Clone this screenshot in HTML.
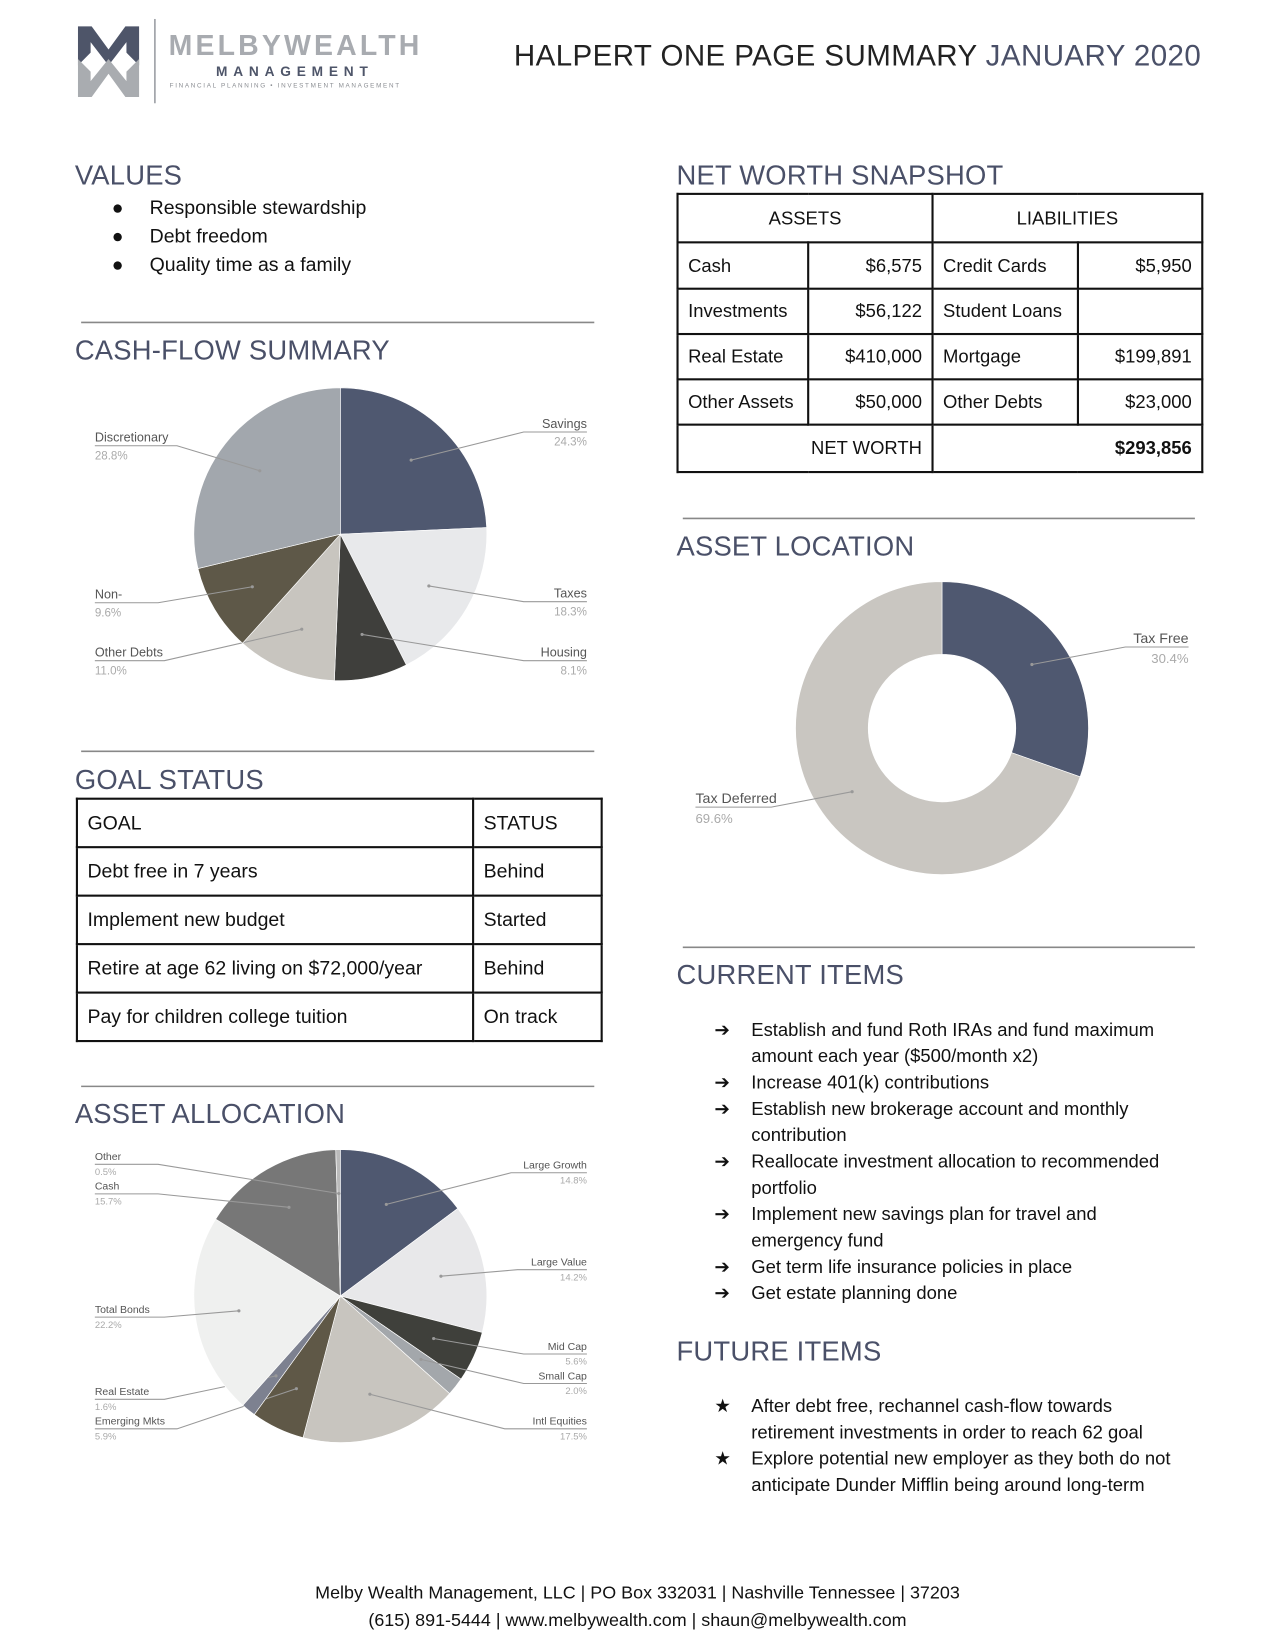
<!DOCTYPE html>
<html><head><meta charset="utf-8">
<style>
html,body{margin:0;padding:0;background:#fff;}
body{width:1275px;height:1650px;overflow:hidden;position:relative;font-family:"Liberation Sans",sans-serif;}
#page{position:absolute;left:0;top:0;width:1210px;height:1566px;transform:scale(1.0537);transform-origin:0 0;}
.abs{position:absolute;white-space:nowrap;}
.h{font-size:26px;color:#4a5068;letter-spacing:0.2px;}
table{border-collapse:collapse;position:absolute;font-size:17.5px;color:#111;}
td{border:2px solid #111;padding:0 9px;}
.r{text-align:right;}
.c{text-align:center;}
.li{position:relative;padding-left:71px;line-height:25px;font-size:17.5px;color:#111;white-space:normal;}
.li .m{position:absolute;left:36px;top:0;}
</style></head>
<body>
<div id="page">

<svg class="abs" style="left:0;top:0" width="1210" height="1566">
  <g>
    <polygon points="74,25 87,25 103,47 119,25 132,25 132,62 120,50 120,40 103,62 86,40 86,50 74,62" fill="#4e5569"/>
    <polygon points="74,92 87,92 103,70 119,92 132,92 132,56 120,68 120,77 103,56 86,77 86,68 74,56" fill="#a9acb0"/>
    <line x1="147" y1="18" x2="147" y2="98" stroke="#9a9da3" stroke-width="1.5"/>
  </g>
  <g stroke="#888" stroke-width="1.5">
    <line x1="77" y1="306" x2="564" y2="306"/>
    <line x1="77" y1="713" x2="564" y2="713"/>
    <line x1="77" y1="1031" x2="564" y2="1031"/>
    <line x1="648" y1="492" x2="1134" y2="492"/>
    <line x1="648" y1="899" x2="1134" y2="899"/>
  </g>
  <g id="cf"></g>
  <g id="al"></g>
  <g id="aa"></g>
</svg>

<div class="abs" style="left:160px;top:28px;font-size:27px;font-weight:bold;color:#a8abb0;letter-spacing:3px">MELBYWEALTH</div>
<div class="abs" style="left:205px;top:60px;font-size:13px;font-weight:bold;color:#4e5569;letter-spacing:5.5px">MANAGEMENT</div>
<div class="abs" style="left:161px;top:79px;font-size:6px;color:#8a8d92;letter-spacing:1.6px">FINANCIAL PLANNING • INVESTMENT MANAGEMENT</div>

<div class="abs" style="right:70px;top:37px;font-size:28px;letter-spacing:0.4px;color:#222">HALPERT ONE PAGE SUMMARY <span style="color:#4a5068">JANUARY 2020</span></div>

<div class="abs h" style="left:71px;top:151px">VALUES</div>
<div class="abs" style="left:0;top:183px;width:560px">
  <div class="li" style="font-size:18.5px;line-height:27px"><span class="m" style="left:106px">●</span><span style="margin-left:71px">Responsible stewardship</span></div>
  <div class="li" style="font-size:18.5px;line-height:27px"><span class="m" style="left:106px">●</span><span style="margin-left:71px">Debt freedom</span></div>
  <div class="li" style="font-size:18.5px;line-height:27px"><span class="m" style="left:106px">●</span><span style="margin-left:71px">Quality time as a family</span></div>
</div>

<div class="abs h" style="left:71px;top:317px">CASH-FLOW SUMMARY</div>
<div class="abs h" style="left:71px;top:725px">GOAL STATUS</div>
<div class="abs h" style="left:71px;top:1042px">ASSET ALLOCATION</div>
<div class="abs h" style="left:642px;top:151px">NET WORTH SNAPSHOT</div>
<div class="abs h" style="left:642px;top:503px">ASSET LOCATION</div>
<div class="abs h" style="left:642px;top:910px">CURRENT ITEMS</div>
<div class="abs h" style="left:642px;top:1267px">FUTURE ITEMS</div>

<table style="left:642px;top:183px;width:500px">
  <tr style="height:46px"><td colspan="2" class="c">ASSETS</td><td colspan="2" class="c">LIABILITIES</td></tr>
  <tr style="height:44px"><td style="width:104px">Cash</td><td class="r">$6,575</td><td style="width:118px">Credit Cards</td><td class="r">$5,950</td></tr>
  <tr style="height:43px"><td>Investments</td><td class="r">$56,122</td><td>Student Loans</td><td class="r"></td></tr>
  <tr style="height:43px"><td>Real Estate</td><td class="r">$410,000</td><td>Mortgage</td><td class="r">$199,891</td></tr>
  <tr style="height:43px"><td>Other Assets</td><td class="r">$50,000</td><td>Other Debts</td><td class="r">$23,000</td></tr>
  <tr style="height:45px"><td colspan="2" class="r">NET WORTH</td><td colspan="2" class="r" style="font-weight:bold">$293,856</td></tr>
</table>

<table style="left:72px;top:757px;width:500px;font-size:18.5px">
  <tr style="height:46px"><td style="width:356px">GOAL</td><td>STATUS</td></tr>
  <tr style="height:46px"><td>Debt free in 7 years</td><td>Behind</td></tr>
  <tr style="height:46px"><td>Implement new budget</td><td>Started</td></tr>
  <tr style="height:46px"><td>Retire at age 62 living on $72,000/year</td><td>Behind</td></tr>
  <tr style="height:46px"><td>Pay for children college tuition</td><td>On track</td></tr>
</table>

<div class="abs" style="left:642px;top:965px;width:488px;white-space:normal">
  <div class="li"><span class="m">➔</span>Establish and fund Roth IRAs and fund maximum amount each year ($500/month x2)</div>
  <div class="li"><span class="m">➔</span>Increase 401(k) contributions</div>
  <div class="li"><span class="m">➔</span>Establish new brokerage account and monthly contribution</div>
  <div class="li"><span class="m">➔</span>Reallocate investment allocation to recommended portfolio</div>
  <div class="li"><span class="m">➔</span>Implement new savings plan for travel and emergency fund</div>
  <div class="li"><span class="m">➔</span>Get term life insurance policies in place</div>
  <div class="li"><span class="m">➔</span>Get estate planning done</div>
</div>

<div class="abs" style="left:642px;top:1322px;width:488px;white-space:normal">
  <div class="li"><span class="m">★</span>After debt free, rechannel cash-flow towards retirement investments in order to reach 62 goal</div>
  <div class="li"><span class="m">★</span>Explore potential new employer as they both do not anticipate Dunder Mifflin being around long-term</div>
</div>

<div class="abs" style="left:0;width:1210px;top:1499px;text-align:center;font-size:17px;color:#111;line-height:26px">Melby Wealth Management, LLC | PO Box 332031 | Nashville Tennessee | 37203<br>(615) 891-5444 | www.melbywealth.com | shaun@melbywealth.com</div>

</div>
<script>
// Cash-flow data
const cfLabels = ["Savings","Taxes","Housing","Other Debts","Non-","Discretionary"];
const cfValues = [24.3,18.3,8.1,11.0,9.6,28.8];
const cfColors = ["#4f5870","#e8e9eb","#3f3f3c","#c8c5bf","#5e5848","#a2a7ad"];
// Asset location data
const alLabels = ["Tax Free","Tax Deferred"];
const alValues = [30.4,69.6];
const alColors = ["#4f5870","#c9c6c1"];
// Asset allocation data
const aaLabels = ["Large Growth","Large Value","Mid Cap","Small Cap","Intl Equities","Emerging Mkts","Real Estate","Total Bonds","Cash","Other"];
const aaValues = [14.8,14.2,5.6,2.0,17.5,5.9,1.6,22.2,15.7,0.5];
const aaColors = ["#4f5870","#e8e8ea","#3f403b","#a3a7ab","#c8c5bf","#5f5847","#7d8190","#eff0ef","#777777","#bbbbbb"];

const NS="http://www.w3.org/2000/svg";
function mk(tag,attrs,parent){const e=document.createElementNS(NS,tag);for(const k in attrs)e.setAttribute(k,attrs[k]);parent.appendChild(e);return e;}
function pt(cx,cy,r,a){return [cx+r*Math.sin(a),cy-r*Math.cos(a)];}
function arcPath(cx,cy,r,ri,a0,a1){
  const large=(a1-a0)>Math.PI?1:0;
  const p0=pt(cx,cy,r,a0),p1=pt(cx,cy,r,a1);
  if(ri>0){const q1=pt(cx,cy,ri,a1),q0=pt(cx,cy,ri,a0);
    return `M${p0} A${r},${r} 0 ${large} 1 ${p1} L${q1} A${ri},${ri} 0 ${large} 0 ${q0}Z`;}
  return `M${cx},${cy} L${p0} A${r},${r} 0 ${large} 1 ${p1}Z`;
}
function drawPie(g,labels,values,colors,cx,cy,r,ri,layout,fs){
  const total=values.reduce((a,b)=>a+b,0);
  let a=0;
  values.forEach((v,i)=>{
    const a1=a+v/total*2*Math.PI;
    const p=mk('path',{d:arcPath(cx,cy,r,ri,a,a1),fill:colors[i],stroke:'#fff','stroke-width':0.6},g);
    
    
    const mid=(a+a1)/2;
    const d=pt(cx,cy,ri>0?(r+ri)/2:r*0.7,mid);
    const L=layout[i];
    const lx=L[0],ly=L[1],right=L[2];
    const lineY=ly+4;
    const bx=right?lx-Math.max(60,labels[i].length*6):lx+Math.max(60,labels[i].length*6);
    mk('polyline',{points:`${d[0]},${d[1]} ${bx},${lineY} ${lx},${lineY}`,fill:'none',stroke:'#999','stroke-width':1},g);
    mk('circle',{cx:d[0],cy:d[1],r:1.5,fill:'#999'},g);
    const t=mk('text',{x:lx,y:ly,'font-size':fs,fill:'#555','text-anchor':right?'end':'start','font-family':'Liberation Sans, sans-serif'},g);
    t.textContent=labels[i];
    
    
    const t2=mk('text',{x:lx,y:ly+17*fs/12,'font-size':fs-1,fill:'#aaa','text-anchor':right?'end':'start','font-family':'Liberation Sans, sans-serif'},g);
    t2.textContent=v.toFixed(1)+'%';
    
    
    a=a1;
  });
}
drawPie(document.getElementById('cf'),cfLabels,cfValues,cfColors,323,507,139,0,
  [[557,406,1],[557,567,1],[557,623,1],[90,623,0],[90,568,0],[90,419,0]],12);
drawPie(document.getElementById('al'),alLabels,alValues,alColors,894,691,139,70,
  [[1128,610,1],[660,762,0]],13.5);
drawPie(document.getElementById('aa'),aaLabels,aaValues,aaColors,323,1230,139,0,
  [[557,1109,1],[557,1201,1],[557,1281,1],[557,1309,1],[557,1352,1],[90,1352,0],[90,1324,0],[90,1246,0],[90,1129,0],[90,1101,0]],10);
</script>
</body></html>
